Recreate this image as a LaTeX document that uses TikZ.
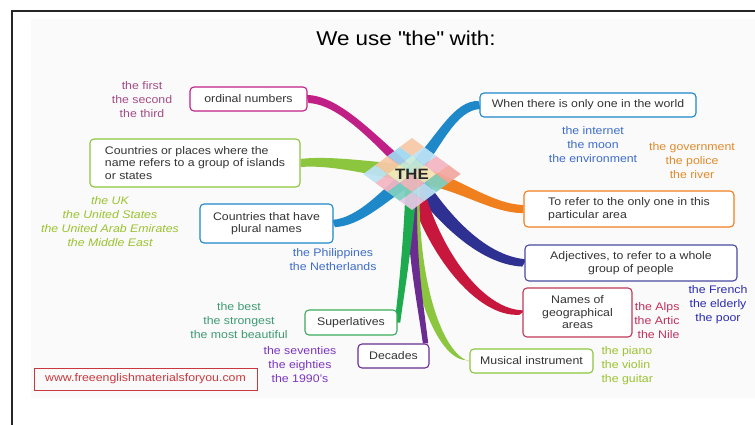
\documentclass[tikz,border=0pt]{standalone}
\usepackage{fontspec}
\setmainfont[FakeStretch=1.12]{Liberation Sans}
\usetikzlibrary{calc,backgrounds}

\definecolor{cMag}{HTML}{C01F86}
\definecolor{tMag}{HTML}{A34B86}
\definecolor{cLime}{HTML}{8CC63E}
\definecolor{tLime}{HTML}{9BC230}
\definecolor{cBlue}{HTML}{1E88C8}
\definecolor{tBlue}{HTML}{3D6CC9}
\definecolor{cOrange}{HTML}{F07F1E}
\definecolor{tOrange}{HTML}{E08A2A}
\definecolor{cNavy}{HTML}{2E3192}
\definecolor{bNavy}{HTML}{4A4AA0}
\definecolor{tNavy}{HTML}{2A2AB0}
\definecolor{cCrimson}{HTML}{C8173C}
\definecolor{bCrimson}{HTML}{C0395A}
\definecolor{tCrimson}{HTML}{C0305A}
\definecolor{cPurple}{HTML}{6A2C91}
\definecolor{tPurple}{HTML}{7B35C0}
\definecolor{cGreen}{HTML}{1EAA4F}
\definecolor{bGreen}{HTML}{3BAA5A}
\definecolor{tGreen}{HTML}{3E9A72}
\definecolor{cRed}{HTML}{C8383E}
% pastel cells of the hub
\definecolor{hA}{HTML}{F4B6C2}
\definecolor{hB}{HTML}{E6C8E6}
\definecolor{hC}{HTML}{7FCFC0}
\definecolor{hD}{HTML}{BDE3F5}
\definecolor{hE}{HTML}{F5EBC0}
\definecolor{hF}{HTML}{F7C9A8}
\definecolor{hG}{HTML}{C8EBD8}
\definecolor{hH}{HTML}{9FD8F0}
\definecolor{hI}{HTML}{F2A8A0}

% tapered ribbon: colour, from, control 1, control 2, to, half-width vector
\newcommand{\branch}[6]{%
  \fill[#1] ($(#2)+(#6)$) .. controls ($(#3)+0.7*(#6)$) and ($(#4)+0.5*(#6)$) .. ($(#5)+0.45*(#6)$)
    -- ($(#5)-0.45*(#6)$) .. controls ($(#4)-0.5*(#6)$) and ($(#3)-0.7*(#6)$) .. ($(#2)-(#6)$) -- cycle;}

\begin{document}
\begin{tikzpicture}[x=1pt,y=-1pt,
    box/.style={draw,rounded corners=4pt,line width=1.1pt,fill=white,text=black!80,
      font=\fontsize{11}{12.5}\selectfont,inner sep=2pt},
    eg/.style={align=center,font=\fontsize{11}{14}\selectfont},
    hubtext/.style={font=\bfseries\fontsize{15}{15}\selectfont,text=black!85}]

\useasboundingbox (0,0) rectangle (755,425);
\draw[line width=1.3pt,black!85] (12,425) -- (12,11) -- (755,11);

\node[font=\fontsize{20}{22}\selectfont] (title) at (406,38) {We use \textquotedbl the\textquotedbl{} with:};

\node[hubtext] (hub) at (412,174) {THE};

% boxes round the hub
\node[box,draw=cMag,minimum width=117,minimum height=24] (ordinal) at (248.5,99) {ordinal numbers};
\node[box,draw=cLime,align=left,minimum width=210,minimum height=48] (islands) at (195,163)
  {Countries or places where the\\name refers to a group of islands\\or states};
\node[box,draw=cBlue,align=center,minimum width=133,minimum height=39] (plural) at (266.5,223.5)
  {Countries that have\\plural names};
\node[box,draw=cBlue,minimum width=216,minimum height=24] (world) at (588,105)
  {When there is only one in the world};
\node[box,draw=cOrange,align=left,minimum width=210,minimum height=36] (area) at (629,209)
  {To refer to the only one in this\\particular area};
\node[box,draw=bNavy,align=center,minimum width=212,minimum height=36] (adj) at (631,263)
  {Adjectives, to refer to a whole\\group of people};
\node[box,draw=bCrimson,align=center,minimum width=109,minimum height=49] (geo) at (577.5,312.5)
  {Names of\\geographical\\areas};
\node[box,draw=cLime,minimum width=123,minimum height=24] (music) at (531.5,361) {Musical instrument};
\node[box,draw=cPurple,minimum width=71,minimum height=24] (decades) at (393.5,356) {Decades};
\node[box,draw=bGreen,minimum width=92,minimum height=25] (superl) at (351,322.5) {Superlatives};
\node[draw=cRed,line width=1pt,text=cRed,font=\fontsize{11}{12}\selectfont,minimum width=223,minimum height=22]
  (url) at (145.5,379) {www.freeenglishmaterialsforyou.com};

% examples
\node[eg,tMag] (egord) at (142,100) {the first\\the second\\the third};
\node[eg,tLime,font=\itshape\fontsize{11}{14}\selectfont] (egisl) at (110,221.5)
  {the UK\\the United States\\the United Arab Emirates\\the Middle East};
\node[eg,tBlue] (egplu) at (333,260) {the Philippines\\the Netherlands};
\node[eg,tBlue] (egwor) at (593,144.5) {the internet\\the moon\\the environment};
\node[eg,tOrange] (egare) at (692,160.5) {the government\\the police\\the river};
\node[eg,tNavy] (egadj) at (718,304.5) {the French\\the elderly\\the poor};
\node[eg,tCrimson,align=right,anchor=east] (eggeo) at (683,320.5) {the Alps\\the Artic\\the Nile};
\node[eg,tLime,align=left,anchor=west] (egmus) at (598,365.5) {the piano\\the violin\\the guitar};
\node[eg,tGreen] (egsup) at (239,321) {the best\\the strongest\\the most beautiful};
\node[eg,tPurple] (egdec) at (300,365) {the seventies\\the eighties\\the 1990's};

\begin{scope}[on background layer]
\fill[black!2] (31,19) rectangle (755,398);
% ribbons
\branch{cMag}{hub}{375,140}{340,100}{ordinal.east}{2,9}
\branch{cLime}{hub}{370,168}{330,160}{islands.east}{0,9}
\branch{cBlue}{hub}{385,195}{360,222}{plural.east}{3,8}
\branch{cBlue}{hub}{440,140}{455,105}{world.west}{2,9}
\branch{cOrange}{hub}{455,180}{490,209}{area.west}{0,9}
\branch{cNavy}{hub}{440,215}{480,260}{adj.west}{-5,8}
\branch{cCrimson}{hub}{430,250}{480,315}{geo.west}{-7,5}
\branch{cLime}{hub}{410,280}{440,360}{music.west}{8,2}
\branch{cPurple}{hub}{410,250}{420,300}{$(decades.north east)+(-4,0)$}{6,0}
\branch{cGreen}{hub}{408,250}{400,300}{superl.east}{6,0}
% hub cells
\begin{scope}[shift={(hub.center)},yscale=0.74,rotate=45]
\foreach \i/\j/\c in {0/0/hD,1/0/hF,2/0/hH,3/0/hF,
                      0/1/hA,1/1/hE,2/1/hG,3/1/hD,
                      0/2/hC,1/2/hA,2/2/hE,3/2/hA,
                      0/3/hB,1/3/hD,2/3/hC,3/3/hI}
  \fill[\c,fill opacity=0.93] (\i*17.2-34.4,\j*17.2-34.4) rectangle ++(17.2,17.2);
\end{scope}
\end{scope}

\end{tikzpicture}
\end{document}
